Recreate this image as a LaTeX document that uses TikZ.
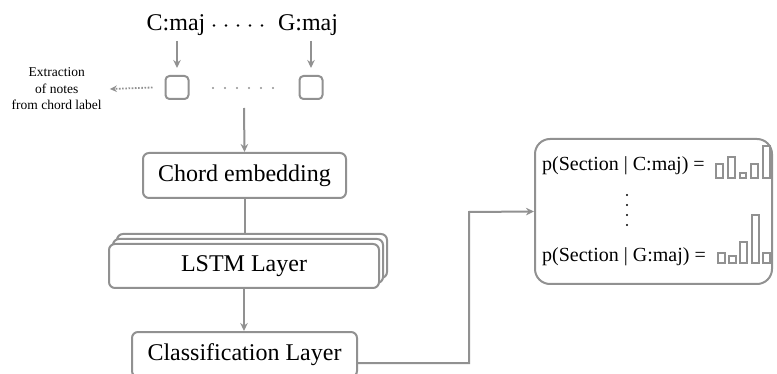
\documentclass[tikz,border=0pt]{standalone}
\usepackage{fontspec}
\setmainfont{Liberation Serif}
\usetikzlibrary{arrows.meta,calc}
\definecolor{lg}{RGB}{145,145,145}
\tikzset{
  box/.style={draw=lg,line width=2pt,rounded corners=6pt,fill=white,inner sep=0pt,
    font=\fontsize{24}{28}\selectfont},
  sqbox/.style={draw=lg,line width=2pt,rounded corners=4pt,minimum size=23pt,inner sep=0pt},
  conn/.style={draw=lg,line width=2pt},
  arr/.style={conn,-{Stealth[length=8pt,width=7.5pt]}},
  dotarr/.style={draw=lg,line width=1.8pt,dash pattern=on 1.6pt off 1.6pt,-{Stealth[length=7pt,width=6.5pt]}},
  bar/.style={draw=lg,line width=1.7pt},
  big/.style={font=\fontsize{24}{28}\selectfont,inner sep=0pt},
  mid/.style={font=\fontsize{20}{24}\selectfont,inner sep=0pt},
}
\begin{document}
\begin{tikzpicture}[x=1pt,y=-1pt]
\useasboundingbox (0,0) rectangle (777,374);
\clip (0,0) rectangle (777,374);
% chord labels
\node[big] (cmaj) at (176,25) {C:maj};
\node[big] (gmaj) at (308,25) {G:maj};
\foreach \i in {0,...,4} \fill (214+12*\i,25.5) circle (1.3pt);
% squares
\node[sqbox] (sq1) at (177,87.5) {};
\node[sqbox] (sq2) at (311,87.5) {};
\foreach \i in {0,...,5} \fill[lg] (213+12*\i,88) circle (1.2pt);
\draw[arr] (sq1.north |- 0,41) -- (sq1.north |- 0,68);
\draw[arr] (sq2.north |- 0,41) -- (sq2.north |- 0,68);
% extraction text
\node[align=center,inner sep=0pt,font=\fontsize{13.5}{16.5}\selectfont] (extr) at (56.7,89) {Extraction\\of notes\\from chord label};
\draw[dotarr] ([xshift=-12pt]sq1.west) -- ([xshift=8pt]extr.east);
% main column
\coordinate (c0) at (244,108);
\node[box,minimum width=203pt,minimum height=45pt] (emb) at (244.5,175.5) {Chord embedding};
\node[box,minimum width=270pt,minimum height=44pt] (l2) at (252,256) {};
\node[box,minimum width=270pt,minimum height=44pt] (l1) at (248,261) {};
\node[box,minimum width=270pt,minimum height=44pt] (lstm) at (244,266) {LSTM Layer};
\node[box,minimum width=225pt,minimum height=45pt] (cls) at (244.5,354.5) {Classification Layer};
\draw[arr] (c0) -- (emb.north);
\draw[conn] (emb.south) -- (emb.south |- l2.north);
\draw[arr] (lstm.south) -- (lstm.south |- cls.north);
% output box
\node[draw=lg,line width=2pt,rounded corners=15pt,minimum width=237pt,minimum height=145pt,inner sep=0pt] (out) at (653.5,211.5) {};
\coordinate (k) at (469,212);
\draw[arr] ([yshift=-8.5pt]cls.east) -| (k) -- (out.west);
\node[mid,anchor=west] (p1) at (542,166) {p(Section | C:maj) =};
\node[mid,anchor=west] (p2) at (542,256.5) {p(Section | G:maj) =};
\foreach \i in {0,...,3} \fill (627,195+10*\i) circle (1.2pt);
% bars group 1
\foreach \cx/\t in {719.5/164,731.5/156.7,743/172.7,754.5/164,766.5/145.7}
  \draw[bar] (\cx-3.2,177.7) rectangle (\cx+3.2,\t);
% bars group 2
\foreach \cx/\t in {721.5/253.3,732.5/255.7,743.5/242.3,755.5/215,766.5/253.3}
  \draw[bar] (\cx-3.2,262.7) rectangle (\cx+3.2,\t);
\end{tikzpicture}
\end{document}
